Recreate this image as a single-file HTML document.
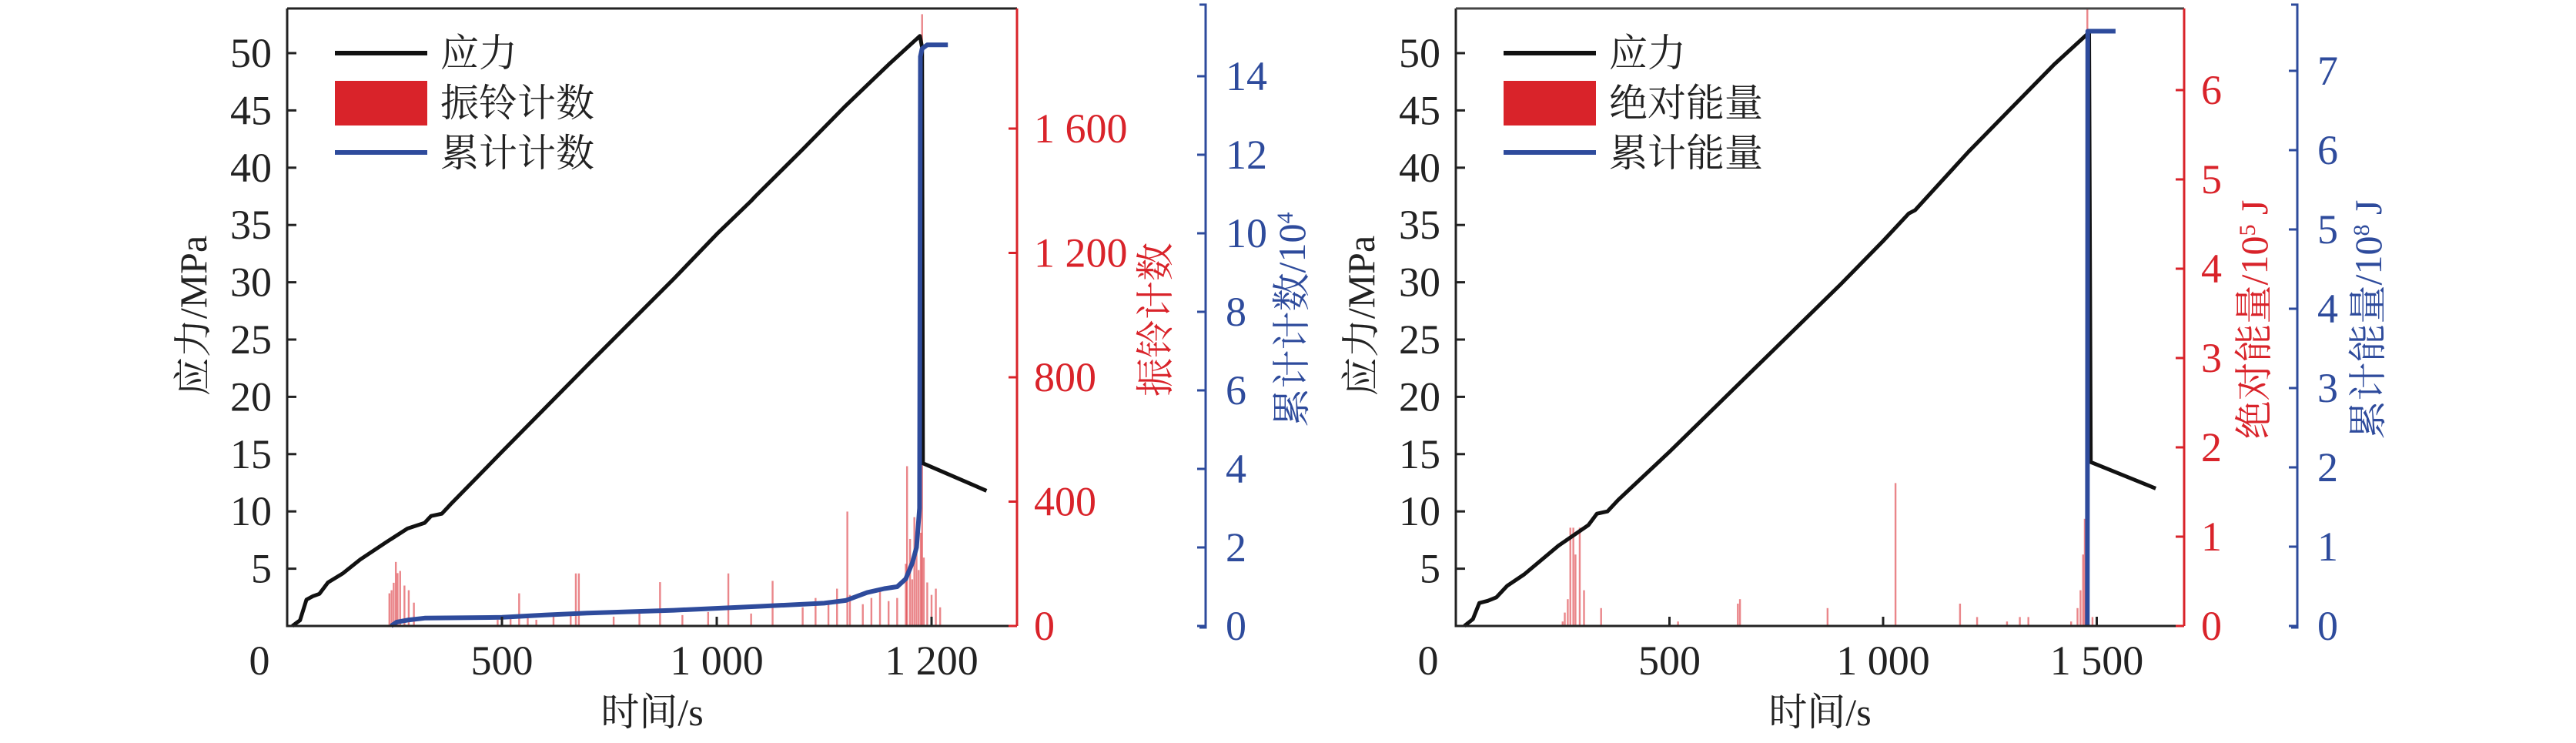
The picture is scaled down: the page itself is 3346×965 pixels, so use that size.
<!DOCTYPE html>
<html><head><meta charset="utf-8"><style>
html,body{margin:0;padding:0;background:#fff}
svg{display:block}
text{font-family:"Liberation Serif","Noto Serif CJK SC","Songti SC","SimSun",serif}
</style></head><body>
<svg id="chart" xmlns="http://www.w3.org/2000/svg" width="3346" height="965" viewBox="0 0 3346 965"></svg>
<script>
// ---------- data: left chart ----------
const stressA_t = [12,30,45,60,75,95,130,170,230,280,320,335,360,380,500,700,900,1000,1080,1090,1200,1300,1400,1473,1478,1480,1628];
const stressA_v = [0,0.5,2.3,2.6,2.8,3.8,4.6,5.8,7.3,8.5,9.0,9.6,9.8,10.6,15.2,22.8,30.3,34.2,37.1,37.5,41.6,45.4,49.0,51.5,50.5,14.2,11.8];
const ringT = [238,243,248,253,257,263,273,283,295,490,520,540,560,580,620,660,672,679,760,820,868,920,980,1027,1080,1130,1200,1230,1260,1280,1304,1310,1340,1360,1380,1400,1420,1440,1443,1450,1455,1460,1465,1470,1475,1478,1482,1490,1500,1510,1520];
const ringV = [105,115,139,206,170,177,130,115,75,20,25,105,35,20,40,45,169,169,30,40,141,35,45,169,40,145,60,90,80,120,368,100,70,90,110,80,90,200,514,280,150,350,250,180,300,1968,220,140,100,120,60];
const cumA_t = [242,255,280,320,500,600,700,900,1100,1250,1300,1350,1390,1420,1440,1455,1465,1472,1474,1478,1490,1538];
const cumA_v = [0,0.1,0.15,0.2,0.22,0.28,0.33,0.4,0.5,0.58,0.65,0.85,0.95,1.0,1.2,1.6,2.0,3.0,14.5,14.7,14.8,14.8];
// ---------- data: right chart ----------
const stressB_t = [20,40,55,75,95,120,160,240,310,330,355,380,500,700,900,1000,1060,1075,1200,1300,1400,1482,1486,1638];
const stressB_v = [0,0.6,2.0,2.2,2.5,3.5,4.5,7.0,8.8,9.8,10.0,11.0,15.2,22.5,29.8,33.6,36.0,36.3,41.4,45.2,49.0,51.8,14.3,12.0];
const energyT = [250,255,262,268,275,280,290,300,340,520,660,665,870,1029,1180,1220,1290,1320,1340,1440,1455,1462,1468,1472,1475,1477,1478,1490,1500];
const energyV = [0.05,0.15,0.3,1.1,1.1,0.8,1.1,0.4,0.2,0.05,0.25,0.3,0.2,1.6,0.25,0.1,0.05,0.1,0.1,0.05,0.2,0.4,0.8,1.2,0.5,3.0,7.0,0.1,0.05];
const cumB_t = [1478,1479,1544];
const cumB_v = [0,7.5,7.5];
// ---------- ticks ----------
const stressTicks = [5,10,15,20,25,30,35,40,45,50];
const xTickVals = [500,1000,1500];
const xTickLabelsA = ["500","1 000","1 200"];
const xTickLabelsB = ["500","1 000","1 500"];
const ringTicks = [0,400,800,1200,1600];
const ringTickLabels = ["0","400","800","1 200","1 600"];
const cumATicks = [0,2,4,6,8,10,12,14];
const energyTicks = [0,1,2,3,4,5,6];
const cumBTicks = [0,1,2,3,4,5,6,7];

const NS="http://www.w3.org/2000/svg";
const svg=document.getElementById('chart');
const RED="#d9232a", BLUE="#2e4b9c";
function mk(tag,attrs,parent){const e=document.createElementNS(NS,tag);for(const k in attrs)e.setAttribute(k,attrs[k]);(parent||svg).appendChild(e);return e;}
function txt(s,attrs,parent){const e=mk('text',attrs,parent);e.textContent=s;return e;}

const Y0=813, YTOP=11;
function drawPanel(o){
  const g=mk('g',{});
  
  
  const xs=t=>o.x0+t*o.kx;
  const ys=v=>Y0-v*74.4/5;
  const yr=v=>Y0-v*o.kr;
  const yb=v=>Y0-v*o.kb;
  const bars=mk('g',{},g);
  
  
  o.barT.forEach((t,i)=>{
    const top=Math.max(YTOP,yr(o.barV[i]));
    const r=mk('rect',{x:xs(t)-1.2,y:top,width:2.4,height:Y0-top,fill:RED,opacity:0.55},bars);
    
    
  });
  const sp=o.sT.map((t,i)=>xs(t).toFixed(1)+','+ys(o.sV[i]).toFixed(1)).join(' ');
  const sl=mk('polyline',{points:sp,fill:'none',stroke:'#111',"stroke-width":5,"stroke-linejoin":'round'},g);
  
  
  const cp=o.cT.map((t,i)=>xs(t).toFixed(1)+','+yb(o.cV[i]).toFixed(1)).join(' ');
  const cl=mk('polyline',{points:cp,fill:'none',stroke:BLUE,"stroke-width":6,"stroke-linejoin":'round'},g);
  
  
  const fr=mk('path',{d:`M${o.x0},${YTOP} V${Y0} H${o.xr}`,fill:'none',stroke:'#222',"stroke-width":3},g);
  
  
  mk('line',{x1:o.x0,y1:YTOP,x2:o.xr,y2:YTOP,stroke:o.topColor,"stroke-width":3},g);
  const ra=mk('line',{x1:o.xr,y1:YTOP,x2:o.xr,y2:Y0,stroke:RED,"stroke-width":3},g);
  
  
  const ba=mk('path',{d:`M${o.xb-8},${YTOP-5} H${o.xb} V${Y0+2} H${o.xb-8}`,fill:'none',stroke:BLUE,"stroke-width":3},g);
  
  
  stressTicks.forEach(v=>{
    mk('line',{x1:o.x0,y1:ys(v),x2:o.x0+12,y2:ys(v),stroke:'#222',"stroke-width":3},g);
    const t=txt(String(v),{x:o.x0-20,y:ys(v)+18,"font-size":54,"text-anchor":'end',fill:'#222'},g);
    
    
  });
  const z=txt('0',{x:o.x0-36,y:876,"font-size":54,"text-anchor":'middle',fill:'#222'},g);
  
  
  xTickVals.forEach((v,i)=>{
    mk('line',{x1:xs(v),y1:Y0,x2:xs(v),y2:Y0-12,stroke:'#222',"stroke-width":3},g);
    const t=txt(o.xLabels[i],{x:xs(v),y:876,"font-size":54,"text-anchor":'middle',fill:'#222'},g);
    
    
  });
  o.rTicks.forEach((v,i)=>{
    mk('line',{x1:o.xr,y1:yr(v),x2:o.xr-11,y2:yr(v),stroke:RED,"stroke-width":3},g);
    const t=txt(o.rLabels[i],{x:o.xr+22,y:yr(v)+18,"font-size":54,fill:RED},g);
    
    
  });
  o.bTicks.forEach(v=>{
    mk('line',{x1:o.xb,y1:yb(v),x2:o.xb-11,y2:yb(v),stroke:BLUE,"stroke-width":3},g);
    const t=txt(String(v),{x:o.xb+26,y:yb(v)+18,"font-size":54,fill:BLUE},g);
    
    
  });
  const xt=txt('时间/s',{x:(o.x0+o.xr)/2,y:942,"font-size":50,"text-anchor":'middle',fill:'#222'},g);
  
  
  const yt=txt('应力/MPa',{x:0,y:0,"font-size":50,"text-anchor":'middle',fill:'#222',transform:`translate(${o.yTitleX},410) rotate(-90)`},g);
  
  
  const rt=mk('text',{x:0,y:0,"font-size":50,"text-anchor":'middle',fill:RED,transform:`translate(${o.rTitleX},415) rotate(-90)`},g);
  rt.innerHTML=o.rTitle;
  
  
  const bt=mk('text',{x:0,y:0,"font-size":50,"text-anchor":'middle',fill:BLUE,transform:`translate(${o.bTitleX},415) rotate(-90)`},g);
  bt.innerHTML=o.bTitle;
  
  
  const lg=mk('g',{},g);
  
  
  const lx=o.x0+62;
  mk('line',{x1:lx,y1:69,x2:lx+120,y2:69,stroke:'#111',"stroke-width":6},lg);
  mk('rect',{x:lx,y:105,width:120,height:58,fill:RED},lg);
  mk('line',{x1:lx,y1:198,x2:lx+120,y2:198,stroke:BLUE,"stroke-width":6},lg);
  o.legend.forEach((s,i)=>{
    const t=txt(s,{x:lx+137,y:86+i*65,"font-size":50,fill:'#222'},lg);
    
    
  });
}
drawPanel({name:'left-panel',x0:373,xr:1321,xb:1566,kx:0.558,kr:161.5/400,kb:102/2,
  barT:ringT,barV:ringV,sT:stressA_t,sV:stressA_v,cT:cumA_t,cV:cumA_v,
  xLabels:xTickLabelsA,rTicks:ringTicks,rLabels:ringTickLabels,bTicks:cumATicks,topColor:'#222',
  yTitleX:268,rTitleX:1518,bTitleX:1695,
  rTitle:'振铃计数',bTitle:'累计计数/10<tspan baseline-shift="super" font-size="30">4</tspan>',
  legend:['应力','振铃计数','累计计数']});
drawPanel({name:'right-panel',x0:1891,xr:2837,xb:2984,kx:0.555,kr:116,kb:103,
  barT:energyT,barV:energyV,sT:stressB_t,sV:stressB_v,cT:cumB_t,cV:cumB_v,
  xLabels:xTickLabelsB,rTicks:energyTicks,rLabels:energyTicks.map(String),bTicks:cumBTicks,topColor:'#444',
  yTitleX:1785,rTitleX:2945,bTitleX:3093,
  rTitle:'绝对能量/10<tspan baseline-shift="super" font-size="30">5</tspan> J',bTitle:'累计能量/10<tspan baseline-shift="super" font-size="30">8</tspan> J',
  legend:['应力','绝对能量','累计能量']});
</script>
</body></html>
